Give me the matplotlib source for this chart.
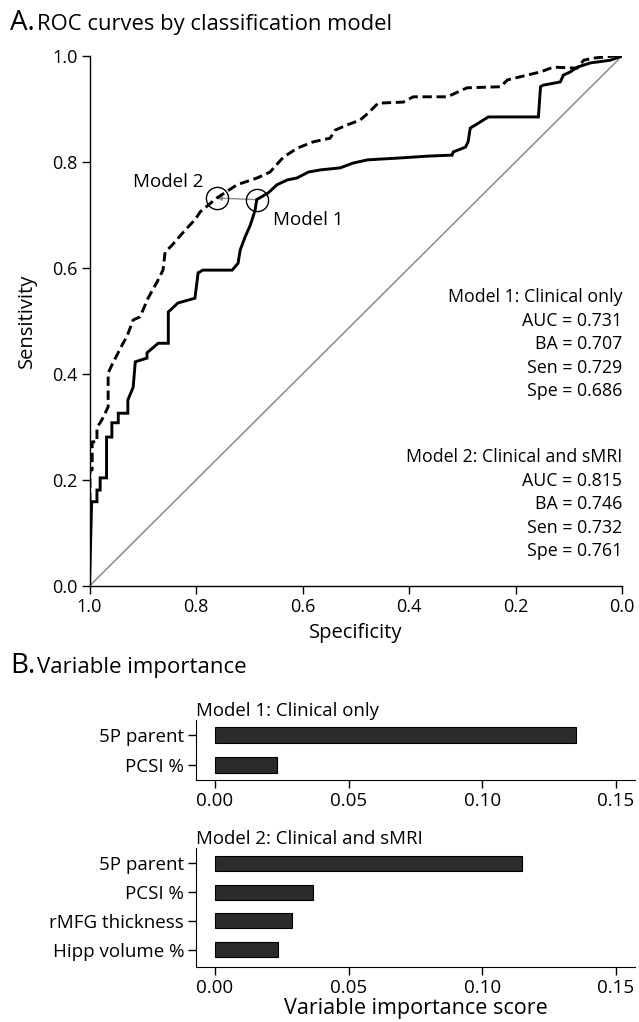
import matplotlib
matplotlib.use("Agg")
import matplotlib.pyplot as plt

plt.rcParams['font.family'] = ['Open Sans', 'DejaVu Sans']

# ROC curve points (specificity, sensitivity)
m1_spec = [1.0, 0.996, 0.986, 0.986, 0.980, 0.980, 0.968, 0.968, 0.958, 0.958, 0.946, 0.946,
           0.928, 0.928, 0.918, 0.914, 0.892, 0.892, 0.871, 0.852, 0.852, 0.834, 0.802, 0.796,
           0.787, 0.732, 0.721, 0.717, 0.708, 0.698, 0.689, 0.686, 0.664, 0.648, 0.629, 0.610,
           0.589, 0.567, 0.529, 0.505, 0.478, 0.411, 0.366, 0.319, 0.317, 0.294, 0.289, 0.285,
           0.275, 0.251, 0.157, 0.153, 0.148, 0.116, 0.110, 0.097, 0.084, 0.059, 0.022, 0.0]
m1_sens = [0.0, 0.159, 0.159, 0.181, 0.181, 0.204, 0.204, 0.281, 0.281, 0.308, 0.308, 0.326,
           0.326, 0.351, 0.375, 0.423, 0.430, 0.440, 0.458, 0.458, 0.517, 0.534, 0.543, 0.591,
           0.596, 0.596, 0.609, 0.634, 0.658, 0.681, 0.709, 0.729, 0.742, 0.757, 0.766, 0.770,
           0.781, 0.785, 0.789, 0.798, 0.804, 0.808, 0.811, 0.813, 0.819, 0.828, 0.838, 0.864,
           0.870, 0.885, 0.885, 0.942, 0.945, 0.951, 0.964, 0.970, 0.979, 0.987, 0.992, 1.0]

m2_spec = [1.0, 0.999, 0.995, 0.995, 0.986, 0.986, 0.980, 0.975, 0.965, 0.965, 0.956, 0.937,
           0.930, 0.918, 0.905, 0.890, 0.873, 0.862, 0.858, 0.845, 0.820, 0.802, 0.792, 0.761,
           0.723, 0.685, 0.661, 0.636, 0.610, 0.580, 0.548, 0.539, 0.516, 0.492, 0.477, 0.458,
           0.411, 0.392, 0.328, 0.291, 0.228, 0.215, 0.153, 0.129, 0.084, 0.072, 0.054, 0.016, 0.0]
m2_sens = [0.0, 0.219, 0.219, 0.272, 0.272, 0.300, 0.308, 0.317, 0.338, 0.402, 0.421, 0.458,
           0.470, 0.502, 0.508, 0.543, 0.574, 0.596, 0.630, 0.643, 0.672, 0.691, 0.706, 0.732,
           0.757, 0.770, 0.781, 0.809, 0.826, 0.838, 0.845, 0.860, 0.870, 0.879, 0.892, 0.911,
           0.913, 0.923, 0.923, 0.940, 0.942, 0.955, 0.970, 0.979, 0.977, 0.992, 0.996, 1.0, 1.0]

m1_best = (0.686, 0.729)
m2_best = (0.761, 0.732)

m1_stats = ["Model 1: Clinical only", "AUC = 0.731", "BA = 0.707", "Sen = 0.729", "Spe = 0.686"]
m2_stats = ["Model 2: Clinical and sMRI", "AUC = 0.815", "BA = 0.746", "Sen = 0.732", "Spe = 0.761"]

# variable importance
m1_vars = ["5P parent", "PCSI %"]
m1_imp = [0.135, 0.0232]
m2_vars = ["5P parent", "PCSI %", "rMFG thickness", "Hipp volume %"]
m2_imp = [0.1147, 0.0365, 0.0288, 0.0237]
imp_ticks = [0.00, 0.05, 0.10, 0.15]

W, H = 639, 1022
fig = plt.figure(figsize=(W / 100, H / 100), dpi=100)

def fx(px):
    return px / W

def fy(py):
    return 1 - py / H

# ---- panel A
fig.text(fx(10), fy(30), "A.", fontsize=20, va='baseline', ha='left')
fig.text(fx(37), fy(30), "ROC curves by classification model", fontsize=15.8, va='baseline', ha='left')

ax = fig.add_axes([fx(89.5), fy(586), fx(622) - fx(89.5), fy(56) - fy(586)])
ax.plot([1, 0], [0, 1], color='#8a8a8a', lw=1.1, zorder=1)
ax.plot(m1_spec, m1_sens, color='black', lw=2.1, solid_joinstyle='miter', zorder=3)
ax.plot(m2_spec, m2_sens, color='black', lw=2.1, linestyle=(0, (3.2, 1.6)), zorder=3)
ax.annotate("", xy=m2_best, xytext=m1_best,
            arrowprops=dict(arrowstyle='-|>', color='#8a8a8a', lw=1.0,
                            mutation_scale=7, shrinkA=0, shrinkB=0), zorder=2)
ax.plot([m1_best[0], m2_best[0]], [m1_best[1], m2_best[1]], 'o', ms=16, mfc='none',
        mec='black', mew=1.0, zorder=4)
ax.text(0.852, 0.762, "Model 2", fontsize=13.5, ha='center', va='center')
ax.text(0.589, 0.690, "Model 1", fontsize=13.5, ha='center', va='center')

for i, s in enumerate(m1_stats):
    ax.text(0.0, 0.545 - i * 0.0443, s, fontsize=12.8, ha='right', va='center')
for i, s in enumerate(m2_stats):
    ax.text(0.0, 0.243 - i * 0.0443, s, fontsize=12.8, ha='right', va='center')

ax.set_xlim(1, 0)
ax.set_ylim(0, 1)
ticks = [1.0, 0.8, 0.6, 0.4, 0.2, 0.0]
ax.set_xticks(ticks)
ax.set_yticks(ticks)
ax.set_xticklabels(["%.1f" % t for t in ticks])
ax.set_yticklabels(["%.1f" % t for t in ticks])
for side in ['top', 'right']:
    ax.spines[side].set_visible(False)
for side in ['left', 'bottom']:
    ax.spines[side].set_linewidth(1.0)
ax.tick_params(direction='out', length=5.5, width=1.0, labelsize=13, pad=3)
ax.set_xlabel("Specificity", fontsize=14.5, labelpad=5)
ax.set_ylabel("Sensitivity", fontsize=14.5, labelpad=11)

# ---- panel B
fig.text(fx(10), fy(673), "B.", fontsize=20, va='baseline', ha='left')
fig.text(fx(37), fy(673), "Variable importance", fontsize=16, va='baseline', ha='left')

xl = ((196 - 215) / 2673, (635 - 215) / 2673)

def imp_panel(top, bottom, names, vals, title, ylim):
    b = fig.add_axes([fx(196), fy(bottom), fx(635) - fx(196), fy(top) - fy(bottom)])
    b.barh(range(len(vals)), vals, height=0.53, color='#2b2b2b', edgecolor='black', lw=0.8)
    b.set_yticks(range(len(vals)))
    b.set_yticklabels(names)
    b.set_ylim(*ylim)
    b.set_xlim(*xl)
    b.set_xticks(imp_ticks)
    b.set_xticklabels(["%.2f" % t for t in imp_ticks])
    for side in ['top', 'right']:
        b.spines[side].set_visible(False)
    b.tick_params(direction='out', length=5.5, width=1.0, labelsize=13.5, pad=3)
    b.set_title(title, fontsize=13.4, loc='left', pad=3)
    return b

imp_panel(720, 780, m1_vars, m1_imp, "Model 1: Clinical only", (1.5, -0.5))
b2 = imp_panel(848, 967, m2_vars, m2_imp, "Model 2: Clinical and sMRI", (3.61, -0.54))
b2.set_xlabel("Variable importance score", fontsize=15.5, labelpad=1)

fig.savefig("out.png", dpi=100)
